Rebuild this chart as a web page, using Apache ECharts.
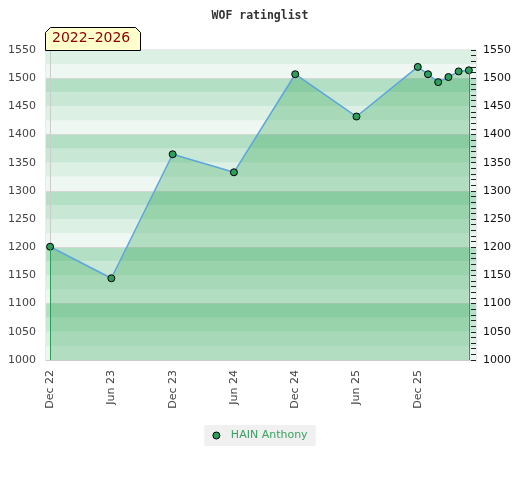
<!DOCTYPE html>
<html>
<head>
<meta charset="utf-8">
<script src="https://cdn.jsdelivr.net/npm/echarts@6/dist/echarts.min.js"></script>
<style>html,body{margin:0;padding:0;background:#fff}#c{width:520px;height:480px}</style>
</head>
<body>
<div id="c"></div>
<script>
// ---- data ----
const dates = ['2022-12','2023-06','2023-12','2024-06','2024-12','2025-06',
               '2025-12','2026-01','2026-02','2026-03','2026-04','2026-05'];
const ratings = [1201, 1145, 1365, 1333, 1507, 1432, 1520, 1507, 1493, 1502, 1512, 1514];
const xTickDates = ['2022-12','2023-06','2023-12','2024-06','2024-12','2025-06','2025-12'];
const xTickLabels = ['Dec 22','Jun 23','Dec 23','Jun 24','Dec 24','Jun 25','Dec 25'];
const seriesName = 'HAIN Anthony';
const periodLabel = '2022–2026';
const titleText = 'WOF ratinglist';

// months since Dec 2022
const mi = d => { const [y, m] = d.split('-').map(Number); return (y - 2022) * 12 + (m - 12); };
const points = dates.map((d, i) => [mi(d), ratings[i]]);
const tickVals = xTickDates.map(mi);
const last = points[points.length - 1];

const chart = echarts.init(document.getElementById('c'), null, {renderer: 'canvas'});
const font = 'DejaVu Sans';
chart.setOption({
  animation: false,
  backgroundColor: '#ffffff',
  title: {
    text: titleText, left: 'center', top: 5,
    textStyle: {fontFamily: 'DejaVu Sans Mono', fontSize: 11.5, fontWeight: 'bold', color: '#333'}
  },
  legend: {
    bottom: 34, left: 'center',
    backgroundColor: '#f0f0f0', padding: [5, 8, 5, 8],
    itemWidth: 7, itemHeight: 7, icon: 'circle',
    textStyle: {fontFamily: font, fontSize: 11, color: '#3aa35f', padding: [0, 0, 0, 6]},
    data: [{name: seriesName, itemStyle: {color: '#2e9e5e', borderColor: '#000', borderWidth: 1}}]
  },
  grid: {left: 46, right: 44, top: 50, bottom: 120, show: true, borderColor: '#d6d6d6', borderWidth: 1, backgroundColor: 'transparent'},
  xAxis: {
    type: 'value',
    min: -0.4, max: 41.7,
    axisLine: {show: true, onZero: false, lineStyle: {color: '#cccccc'}},
    axisTick: {show: false},
    splitLine: {show: false},
    axisLabel: {
      customValues: tickVals,
      rotate: 90, margin: 10,
      fontFamily: font, fontSize: 11, color: '#444',
      formatter: v => { const i = tickVals.indexOf(v); return i >= 0 ? xTickLabels[i] : ''; }
    }
  },
  yAxis: [
    {
      type: 'value', position: 'left', min: 1000, max: 1550, interval: 25,
      axisLine: {show: true, lineStyle: {color: '#cccccc'}},
      axisTick: {show: false},
      splitLine: {show: false},
      splitArea: {show: true, areaStyle: {color: ['#eff7f2', '#ddf0e4', '#c8e8d5', '#b3dfc5']}},
      axisLabel: {
        fontFamily: font, fontSize: 11, color: '#444', margin: 10,
        formatter: v => (v % 50 === 0 ? String(v) : '')
      }
    },
    {
      type: 'value', position: 'right', min: 1000, max: 1550, interval: 50,
      axisLine: {show: false},
      axisTick: {show: true, inside: true, length: 5, lineStyle: {color: '#222'}},
      minorTick: {show: true, splitNumber: 5, length: 5, lineStyle: {color: '#222'}},
      splitLine: {show: true, lineStyle: {color: ['#d6d6d6', 'rgba(0,0,0,0)'], width: 1}},
      axisLabel: {fontFamily: font, fontSize: 11, color: '#111', margin: 7, formatter: v => String(v)}
    }
  ],
  graphic: [
    {
      type: 'polygon', z: 100,
      shape: {points: [[45.5, 50.5], [45.5, 32.5], [50.5, 27.5], [135.5, 27.5], [140.5, 32.5], [140.5, 50.5]]},
      style: {fill: '#ffffcc', stroke: '#000', lineWidth: 1}
    },
    {
      type: 'text', z: 101, left: 52, top: 31,
      style: {text: periodLabel, font: '14px "DejaVu Sans"', fill: '#8b0000'}
    }
  ],
  series: [{
    name: seriesName,
    type: 'line',
    yAxisIndex: 0,
    data: points,
    symbol: 'circle', symbolSize: 7,
    itemStyle: {color: '#2e9e5e', borderColor: '#000', borderWidth: 1},
    lineStyle: {color: '#5ca5dd', width: 1.5},
    areaStyle: {color: 'rgba(37,161,75,0.42)', origin: 'start'},
    markLine: {
      silent: true, symbol: 'none', label: {show: false},
      lineStyle: {color: '#2a9d52', width: 1, type: 'solid'},
      data: [
        [{coord: [points[0][0], 1000]}, {coord: [points[0][0], points[0][1]]}],
        [{coord: [last[0], 1000]}, {coord: [last[0], last[1]]}]
      ]
    }
  }]
});
</script>
</body>
</html>
